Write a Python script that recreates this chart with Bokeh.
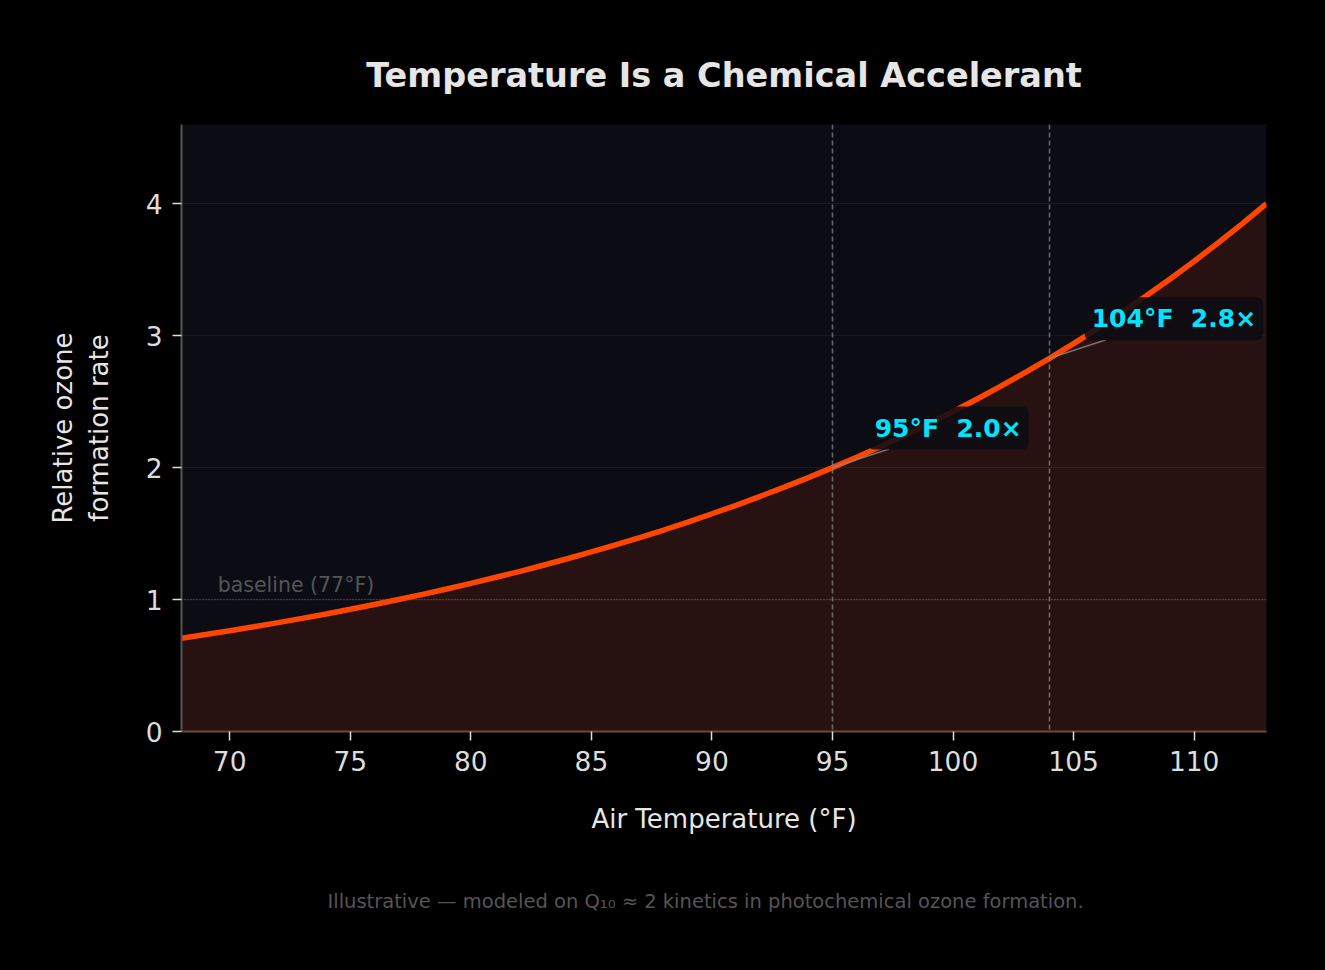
from bokeh.plotting import figure
from bokeh.models import ColumnDataSource, Span, Label, FixedTicker, Range1d, Title
from bokeh.embed import file_html
from bokeh.resources import INLINE

# ---- data ----
temps_f = [68, 69, 70, 71, 72, 73, 74, 75, 76, 77, 78, 79, 80, 81, 82, 83, 84, 85,
           86, 87, 88, 89, 90, 91, 92, 93, 94, 95, 96, 97, 98, 99, 100, 101, 102,
           103, 104, 105, 106, 107, 108, 109, 110, 111, 112, 113]
rel_rate = [0.707, 0.735, 0.764, 0.794, 0.825, 0.857, 0.891, 0.926, 0.962, 1.000,
            1.039, 1.080, 1.122, 1.167, 1.212, 1.260, 1.309, 1.361, 1.414, 1.470,
            1.527, 1.587, 1.650, 1.714, 1.782, 1.852, 1.924, 2.000, 2.079, 2.160,
            2.245, 2.333, 2.425, 2.520, 2.619, 2.722, 2.828, 2.940, 3.055, 3.175,
            3.300, 3.429, 3.564, 3.704, 3.849, 4.000]
baseline_temp = 77
baseline_rate = 1.0
ann_temps = [95, 104]
ann_rates = [2.0, 2.828]
ann_texts = ["95°F\u00a0\u00a02.0×", "104°F\u00a0\u00a02.8×"]
x_ticks = [70, 75, 80, 85, 90, 95, 100, 105, 110]
y_ticks = [0, 1, 2, 3, 4]

title_text = "Temperature Is a Chemical Accelerant"
x_label = "Air Temperature (°F)"
y_label = "Relative ozone\nformation rate"
footnote = "Illustrative — modeled on Q₁₀ ≈ 2 kinetics in photochemical ozone formation."

FONT = "DejaVu Sans"
W, H = 1325, 970
L, R, T, B = 181, 59, 124, 239

src = ColumnDataSource(dict(t=temps_f, r=rel_rate, z=[0] * len(temps_f)))

p = figure(width=W, height=H, output_backend="svg", toolbar_location=None,
           x_range=Range1d(68, 113), y_range=Range1d(0, 4.6),
           min_border_left=L, min_border_right=R, min_border_top=T, min_border_bottom=B,
           background_fill_color="#0b0c14", border_fill_color="#000000",
           outline_line_color=None, outline_line_alpha=0, outline_line_width=0)

# fill & curve
p.varea(x="t", y1="z", y2="r", source=src, fill_color="#ff4500", fill_alpha=0.12)
p.line(x="t", y="r", source=src, line_color="#ff4500", line_width=5.5)

# reference lines
for t in ann_temps:
    p.add_layout(Span(location=t, dimension="height", line_color="#8a8a8a",
                      line_alpha=0.7, line_dash="5 3", line_width=1.6))
p.add_layout(Span(location=baseline_rate, dimension="width", line_color="#7a6048",
                  line_alpha=0.9, line_dash="1 2", line_width=1.2))
p.add_layout(Label(x=baseline_temp - 7.5, y=baseline_rate + 0.11, text="baseline (77°F)",
                   text_font=FONT, text_font_size="20.5px", text_color="#555555",
                   text_baseline="middle", text_align="left"))

# leader lines & annotation labels
lx0 = ann_temps
ly0 = ann_rates
lx1 = [t + 2.35 for t in ann_temps]
ly1 = [r + 0.14 for r in ann_rates]
p.segment(x0=lx0, y0=ly0, x1=lx1, y1=ly1, line_color="#8a8a8a", line_width=1.6, line_alpha=0.8)
for t, r, s in zip(ann_temps, ann_rates, ann_texts):
    p.add_layout(Label(x=t + 1.46, y=r + 0.30, text=s, text_font=FONT,
                       text_font_size="25px", text_font_style="bold", text_color="#00e5ff",
                       text_baseline="middle", text_align="left",
                       background_fill_color="#0d0d12", background_fill_alpha=0.88,
                       padding=7, border_radius=6))

# axes
for ax in (p.xaxis[0], p.yaxis[0]):
    ax.major_label_text_font = FONT
    ax.major_label_text_font_size = "26.5px"
    ax.major_label_text_color = "#dddddd"
    ax.axis_label_text_font = FONT
    ax.axis_label_text_font_size = "26px"
    ax.axis_label_text_font_style = "normal"
    ax.axis_label_text_color = "#e6e6e6"
    ax.major_tick_line_color = "#dddddd"
    ax.major_tick_line_width = 1.5
    ax.major_tick_out = 9
    ax.major_tick_in = 0
    ax.minor_tick_line_color = None
    ax.major_label_standoff = 10

p.xaxis.ticker = FixedTicker(ticks=x_ticks)
p.yaxis.ticker = FixedTicker(ticks=y_ticks)
p.xaxis.axis_label = x_label
p.yaxis.axis_label = y_label
p.xaxis.axis_line_color = "#6b4a3a"
p.xaxis.axis_line_width = 2
p.yaxis.axis_line_color = "#555555"
p.yaxis.axis_line_width = 2
p.xaxis.axis_label_standoff = 30
p.yaxis.axis_label_standoff = 29

p.xgrid.grid_line_color = None
p.ygrid.grid_line_color = "#1e1e1e"
p.ygrid.grid_line_alpha = 0.8
p.ygrid.grid_line_width = 1

# title & footnote
p.add_layout(Title(text=title_text, align="center", text_font=FONT, text_font_size="33.5px",
                   text_font_style="bold", text_color="#e6e6e6", standoff=60), "above")
p.add_layout(Title(text=footnote, align="left", text_font=FONT, text_font_size="19.5px",
                   text_font_style="normal", text_color="#555555", standoff=102,
                   offset=146), "below")

html = file_html(p, INLINE)
html = html.replace("</head>",
                    "<style>html,body{margin:0;padding:0;background-color:#000000;}</style></head>", 1)
open("out.html", "w").write(html)
